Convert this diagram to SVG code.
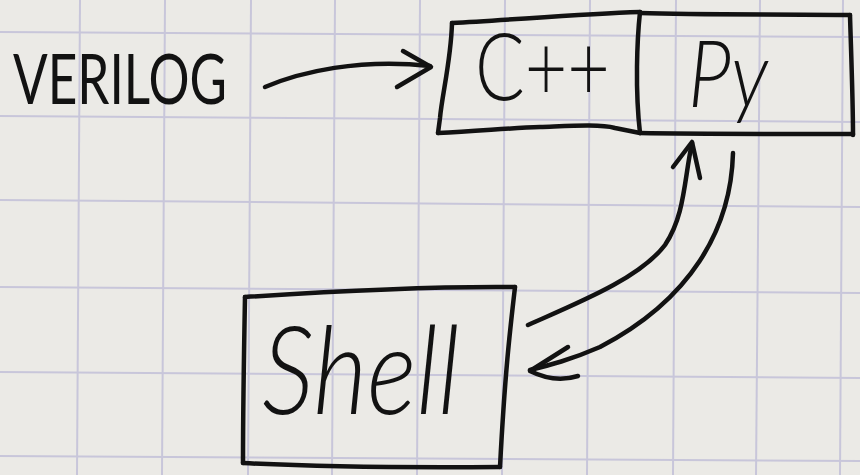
<svg xmlns="http://www.w3.org/2000/svg" width="860" height="475" viewBox="0 0 860 475">
  <style>
    .paper { fill: #ebeae6; }
    .grid line { stroke: #c8c6da; stroke-width: 2; }
    .ink { fill: none; stroke: #121212; stroke-width: 4.5; stroke-linecap: round; stroke-linejoin: round; }
    .hand { fill: #121212; font-family: Lato, Inter, "Liberation Sans", sans-serif; }
  </style>
  <rect class="paper" x="0" y="0" width="860" height="475"/>
  <g class="grid">
    <line x1="0" y1="32" x2="860" y2="37"/>
    <line x1="0" y1="116" x2="860" y2="122"/>
    <line x1="0" y1="200" x2="860" y2="207"/>
    <line x1="0" y1="287" x2="860" y2="293"/>
    <line x1="0" y1="372" x2="860" y2="378"/>
    <line x1="0" y1="456" x2="860" y2="461"/>
    <line x1="80" y1="0" x2="77" y2="475"/>
    <line x1="165" y1="0" x2="162" y2="475"/>
    <line x1="251" y1="0" x2="248" y2="475"/>
    <line x1="335" y1="0" x2="332" y2="475"/>
    <line x1="420" y1="0" x2="417" y2="475"/>
    <line x1="505" y1="0" x2="502" y2="475"/>
    <line x1="590" y1="0" x2="587" y2="475"/>
    <line x1="676" y1="0" x2="673" y2="475"/>
    <line x1="760" y1="0" x2="756" y2="475"/>
    <line x1="843" y1="0" x2="840" y2="475"/>
  </g>

  <g id="verilog">
    <text class="hand" x="13" y="104" font-size="70" font-weight="400" textLength="214" lengthAdjust="spacingAndGlyphs">VERILOG</text>
  </g>

  <g id="cpp">
    <path class="ink" d="M452,23 C451,60 442,95 440,118 L438,133"/>
    <path class="ink" d="M452,23 C510,20 580,14 640,12"/>
    <path class="ink" d="M438,133 C480,131 510,128 540,127 C570,126 600,124 615,128 L640,133"/>
    <path class="ink" d="M640,12 C637,40 635,90 640,133"/>
    <text class="hand" x="475" y="100" font-size="92" font-weight="300" textLength="135" lengthAdjust="spacingAndGlyphs">C++</text>
  </g>

  <g id="py">
    <path class="ink" d="M640,13 C700,15 780,14 850,15"/>
    <path class="ink" d="M850,15 C851,50 853,100 853,135"/>
    <path class="ink" d="M640,133 C700,134 780,134 853,134"/>
    <text class="hand" x="688" y="107" font-size="92" font-weight="300" font-style="italic" textLength="80" lengthAdjust="spacingAndGlyphs">Py</text>
  </g>

  <g id="shell">
    <path class="ink" d="M245,297 C320,292 420,286 515,287"/>
    <path class="ink" d="M515,287 C510,330 505,372 500,467"/>
    <path class="ink" d="M243,463 C300,466 370,468 500,467"/>
    <path class="ink" d="M245,297 C244,350 243,410 243,463"/>
    <text class="hand" x="262" y="414" font-size="122" font-weight="300" font-style="italic" textLength="198" lengthAdjust="spacingAndGlyphs">Shell</text>
  </g>

  <g id="connectors">
    <path class="ink" d="M265,87 C300,72 360,58 430,66"/>
    <path class="ink" d="M403,51 L431,67 L397,87"/>
    <path class="ink" d="M528,325 C580,302 640,278 665,245 C685,215 684,180 692,143"/>
    <path class="ink" d="M673,167 L692,142 L700,178"/>
    <path class="ink" d="M733,153 C731,230 690,300 600,347 C570,360 550,365 530,370"/>
    <path class="ink" d="M568,347 L530,371 C548,380 565,380 578,376"/>
  </g>
</svg>
